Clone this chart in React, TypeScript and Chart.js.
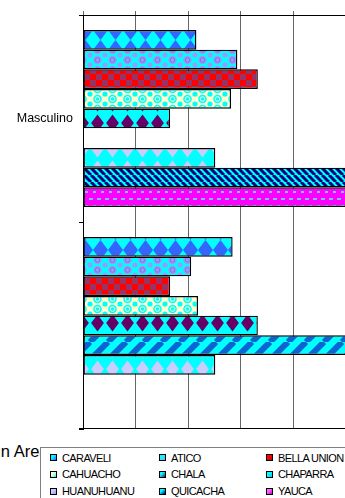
import React, { useEffect, useRef } from 'react';
import { Chart, registerables } from 'chart.js';
Chart.register(...registerables);

const FONT = "'Liberation Sans', Arial, sans-serif";

// ---- data ----
const categories = ['Masculino', ''];
const seriesNames = ['CARAVELI', 'ATICO', 'BELLA UNION', 'CAHUACHO', 'CHALA', 'CHAPARRA', 'HUANUHUANU', 'QUICACHA', 'YAUCA'];
const caraveli = [2.16, 2.85];
const atico = [2.94, 2.06];
const bellaUnion = [3.33, 1.66];
const cahuacho = [2.82, 2.19];
const chala = [1.66, 3.33];
const chaparra = [null, 5.6];
const huanuhuanu = [2.52, 2.52];
const quicacha = [5.6, null];
const yauca = [5.6, null];
const xTicks = [0, 1, 2, 3, 4, 5, 6];
const footerText = 'Población por Sexo según Area';

const seriesValues = [caraveli, atico, bellaUnion, cahuacho, chala, chaparra, huanuhuanu, quicacha, yauca];

// ---- styles ----
const CYAN = '#00FFFF';
type Painter = (g: CanvasRenderingContext2D, w: number, h: number) => void;
type TileSpec = { w: number; h: number; dx: number; dy: number; paint: Painter };

const diamonds = (a: string, b: string, k = 1): Painter => (g, w, h) => {
  g.fillStyle = a; g.fillRect(0, 0, w, h);
  g.fillStyle = b;
  const cx = w / 2, cy = h / 2;
  g.beginPath();
  g.moveTo(cx, cy - cy * k); g.lineTo(cx + cx * k, cy); g.lineTo(cx, cy + cy * k); g.lineTo(cx - cx * k, cy);
  g.closePath(); g.fill();
};
const spheres = (bg: string, fg: string, ring: string): Painter => (g, w, h) => {
  g.fillStyle = bg; g.fillRect(0, 0, w, h);
  g.fillStyle = fg;
  g.beginPath(); g.arc(w / 2, h / 2, 4.3, 0, Math.PI * 2); g.fill();
  for (const [x, y] of [[0, 0], [w, 0], [0, h], [w, h]]) { g.beginPath(); g.arc(x, y, 2.6, 0, Math.PI * 2); g.fill(); }
  g.strokeStyle = ring; g.lineWidth = 1;
  g.beginPath(); g.arc(w / 2, h / 2, 2.3, 0, Math.PI * 2); g.stroke();
};
const checker = (a: string, b: string): Painter => (g, w, h) => {
  g.fillStyle = a; g.fillRect(0, 0, w, h);
  g.fillStyle = b; g.fillRect(0, 0, w / 2, h / 2); g.fillRect(w / 2, h / 2, w / 2, h / 2);
};
const stripes = (bg: string, fg: string, lw: number, up: boolean): Painter => (g, w, h) => {
  g.fillStyle = bg; g.fillRect(0, 0, w, h);
  g.strokeStyle = fg; g.lineWidth = lw;
  for (const o of [-w, 0, w]) {
    g.beginPath();
    if (up) { g.moveTo(o, h); g.lineTo(o + w, 0); } else { g.moveTo(o, 0); g.lineTo(o + w, h); }
    g.stroke();
  }
};
const dashes = (bg: string, fg: string): Painter => (g, w, h) => {
  g.fillStyle = bg; g.fillRect(0, 0, w, h);
  g.fillStyle = fg; g.fillRect(1, 2, 4, 2); g.fillRect(5, 9, 4, 2);
};

const tileSpecs: TileSpec[] = [
  { w: 15, h: 20, dx: 3, dy: 0, paint: diamonds(CYAN, '#3366FF', 1) },
  { w: 15, h: 10, dx: 0, dy: 5, paint: spheres(CYAN, '#9999FF', '#7777DD') },
  { w: 12, h: 12, dx: 0, dy: 2, paint: checker('#FF0000', '#993366') },
  { w: 15, h: 10, dx: 0, dy: 4, paint: spheres('#FFFFCC', CYAN, '#FFFFCC') },
  { w: 15, h: 20, dx: 0, dy: -7, paint: diamonds(CYAN, '#660066', 0.85) },
  { w: 18, h: 18, dx: 0, dy: 0, paint: stripes(CYAN, '#0A64D2', 6, true) },
  { w: 15, h: 20, dx: 0, dy: -1, paint: diamonds(CYAN, '#CCCCFF', 0.85) },
  { w: 7, h: 7, dx: 0, dy: 0, paint: stripes(CYAN, '#000080', 3, false) },
  { w: 8, h: 14, dx: 0, dy: 0, paint: dashes('#FF00FF', '#66CCFF') },
];
const swatchColors = [
  ['#00FFFF', '#3366FF'], ['#00FFFF', '#9999FF'], ['#FF0000', '#CC0000'],
  ['#FFFFCC', '#00FFFF'], ['#00FFFF', '#660066'], ['#00FFFF', '#00CCFF'],
  ['#CCCCFF', '#9999FF'], ['#00FFFF', '#000080'], ['#FF66FF', '#CC00CC'],
];

function makePattern(ctx: CanvasRenderingContext2D, s: TileSpec): CanvasPattern {
  const c = document.createElement('canvas');
  c.width = s.w; c.height = s.h;
  const g = c.getContext('2d')!;
  s.paint(g, s.w, s.h);
  const p = ctx.createPattern(c, 'repeat')!;
  try { p.setTransform(new DOMMatrix([1, 0, 0, 1, s.dx, s.dy])); } catch (e) { /* ignore */ }
  return p;
}

const bottomLine = {
  id: 'bottomLine',
  afterDraw(chart: any) {
    const { ctx, chartArea } = chart;
    ctx.save();
    ctx.strokeStyle = '#000';
    ctx.lineWidth = 1;
    ctx.beginPath();
    const y = Math.round(chartArea.bottom) - 0.5;
    ctx.moveTo(chartArea.left - 4, y);
    ctx.lineTo(chartArea.right, y);
    ctx.stroke();
    ctx.restore();
  },
};

const noPad = (s: any) => { s.paddingTop = 0; s.paddingBottom = 0; s.paddingLeft = 0; s.paddingRight = 0; };

export default function App() {
  const ref = useRef<HTMLCanvasElement>(null);
  useEffect(() => {
    const canvas = ref.current!;
    const ctx = canvas.getContext('2d')!;
    const pats = tileSpecs.map((s) => makePattern(ctx, s));
    const chart = new Chart(canvas, {
      type: 'bar',
      data: {
        labels: categories,
        datasets: seriesNames.map((n, i) => ({
          label: n,
          data: seriesValues[i] as any,
          backgroundColor: pats[i] as any,
          borderColor: '#000',
          borderWidth: 1.4,
          borderSkipped: false,
          categoryPercentage: 0.855,
          barPercentage: 1,
        })),
      },
      options: {
        indexAxis: 'y',
        responsive: false,
        maintainAspectRatio: false,
        animation: false,
        layout: { autoPadding: false, padding: { left: 0, right: 1, top: 0, bottom: 1 } },
        plugins: { legend: { display: false }, tooltip: { enabled: false } },
        scales: {
          x: {
            position: 'top',
            min: xTicks[0],
            max: xTicks[xTicks.length - 1],
            afterBuildTicks: (s: any) => { s.ticks = xTicks.map((v) => ({ value: v })); },
            ticks: { display: false },
            grid: { color: '#666666', tickLength: 4, drawTicks: true, lineWidth: 1 },
            border: { display: true, color: '#000' },
            afterFit: (s: any) => { s.height = 15; noPad(s); },
          },
          y: {
            ticks: { color: '#000', font: { size: 12.5, family: FONT }, padding: 6 },
            grid: { display: true, drawOnChartArea: false, drawTicks: true, tickLength: 4, color: '#000', offset: true },
            border: { display: true, color: '#000' },
            afterFit: (s: any) => { s.width = 83; noPad(s); },
          },
        },
      } as any,
      plugins: [bottomLine],
    });
    return () => chart.destroy();
  }, []);

  return (
    <div style={{ position: 'absolute', left: 0, top: 0, width: 345, height: 498, overflow: 'hidden', background: '#fff', fontFamily: FONT }}>
      <canvas ref={ref} width={399} height={430} style={{ position: 'absolute', left: 0, top: 0, width: 399, height: 430, display: 'block' }} />
      <div style={{ position: 'absolute', left: -351.5, top: 442, width: 400, textAlign: 'right', whiteSpace: 'nowrap', fontSize: 16.5, lineHeight: '19px', color: '#000' }}>
        {footerText}
      </div>
      <div style={{ position: 'absolute', left: 40, top: 447, width: 330, height: 70, border: '1px solid #808080', background: '#fff' }}>
        {seriesNames.map((n, i) => {
          const col = i % 3;
          const row = Math.floor(i / 3);
          const sx = [9, 118, 225][col];
          const cy = [9.5, 26, 43][row];
          return (
            <React.Fragment key={n}>
              <div style={{ position: 'absolute', left: sx, top: cy - 3.5, width: 5, height: 5, border: '1px solid #000', background: `linear-gradient(135deg, ${swatchColors[i][0]} 35%, ${swatchColors[i][1]})` }} />
              <div style={{ position: 'absolute', left: sx + 12, top: cy - 7, fontSize: 11, lineHeight: '14px', letterSpacing: -0.6, whiteSpace: 'nowrap', color: '#000' }}>{n}</div>
            </React.Fragment>
          );
        })}
      </div>
    </div>
  );
}
